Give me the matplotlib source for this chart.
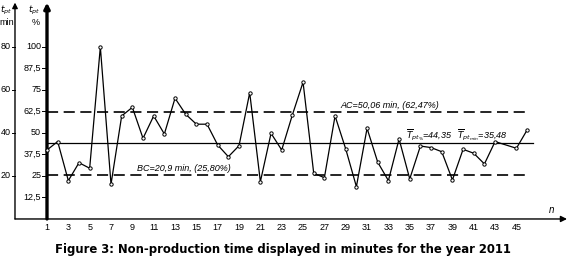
import matplotlib
matplotlib.use('Agg')
import matplotlib.pyplot as plt

# measurement number and non-production time in % (100 % = 80 min)
n_values = [1, 2, 3, 4, 5, 6, 7, 8, 9, 10, 11, 12, 13, 14, 15, 16, 17, 18, 19, 20,
            21, 22, 23, 24, 25, 26, 27, 28, 29, 30, 31, 32, 33, 34, 35, 36, 37, 38,
            39, 40, 41, 42, 43, 45, 46]
t_pct = [40.1, 45.0, 22.3, 32.7, 29.5, 100.0, 20.2, 59.9, 64.9, 46.9, 59.9, 49.4,
         70.2, 60.9, 55.1, 55.1, 43.0, 36.2, 42.6, 73.4, 21.7, 49.8, 40.1, 60.5,
         79.5, 26.6, 24.0, 59.9, 40.7, 18.8, 52.7, 33.0, 22.3, 46.5, 23.3, 42.4,
         41.5, 39.1, 22.7, 40.5, 38.2, 32.0, 45.0, 41.1, 51.7]

ac_pct = 62.47
bc_pct = 25.80
mean_pct = 44.35

pct_ticks = [12.5, 25, 37.5, 50, 62.5, 75, 87.5, 100]
pct_labels = ['12,5', '25', '37,5', '50', '62,5', '75', '87,5', '100']
min_ticks = [25, 50, 75, 100]
min_labels = ['20', '40', '60', '80']
x_ticks = list(range(1, 46, 2))

plt.rcParams['font.family'] = ['Liberation Sans', 'DejaVu Sans']
plt.rcParams['lines.scale_dashes'] = False

fig = plt.figure(figsize=(5.67, 2.68), dpi=100)
ax = fig.add_axes([0, 0, 1, 1])
ax.set_xlim(-3.405, 49.74)
ax.set_ylim(-28.5, 127.3)
ax.axis('off')

fs = 6.5
left_axis_x = -2.0

# reference lines
ax.plot([1, 46.3], [ac_pct, ac_pct], color='black', lw=1.2, dashes=(8, 4))
ax.plot([1, 46.3], [bc_pct, bc_pct], color='black', lw=1.2, dashes=(8, 4))
ax.plot([1, 46.6], [mean_pct, mean_pct], color='black', lw=0.9)

# data series
ax.plot(n_values, t_pct, color='black', lw=0.9, marker='o', markersize=2.4,
        mfc='white', mec='black', mew=0.7, zorder=5)

# x axis with arrow
ax.annotate('', xy=(49.74, 0), xytext=(left_axis_x, 0),
            arrowprops=dict(arrowstyle='-|>', lw=1.0, color='black',
                            mutation_scale=9, shrinkA=0, shrinkB=0),
            annotation_clip=False)
for t in x_ticks:
    ax.text(t, -4.7, str(t), ha='center', va='center', fontsize=fs)
ax.text(48.3, 5.5, 'n', ha='center', va='center', fontsize=fs + 0.5, style='italic')

# percent axis (thick)
ax.annotate('', xy=(1, 125.8), xytext=(1, 0),
            arrowprops=dict(arrowstyle='-|>', lw=2.4, color='black',
                            mutation_scale=8, shrinkA=0, shrinkB=0),
            annotation_clip=False)
for v, lab in zip(pct_ticks, pct_labels):
    ax.plot([0.55, 1], [v, v], color='black', lw=0.7)
    ax.text(0.45, v, lab, ha='right', va='center', fontsize=fs)
ax.text(-0.2, 121.5, r'$t_{pt}$', ha='center', va='center', fontsize=fs)
ax.text(-0.1, 114.5, '%', ha='center', va='center', fontsize=fs)

# minutes axis
ax.annotate('', xy=(left_axis_x, 125.8), xytext=(left_axis_x, 0),
            arrowprops=dict(arrowstyle='-|>', lw=1.0, color='black',
                            mutation_scale=8, shrinkA=0, shrinkB=0),
            annotation_clip=False)
for v, lab in zip(min_ticks, min_labels):
    ax.plot([left_axis_x - 0.3, left_axis_x], [v, v], color='black', lw=0.7)
    ax.text(left_axis_x - 0.4, v, lab, ha='right', va='center', fontsize=fs)
ax.text(-2.8, 121.5, r'$t_{pt}$', ha='center', va='center', fontsize=fs)
ax.text(-2.75, 114.5, 'min', ha='center', va='center', fontsize=fs)

# annotations
ax.text(28.55, 63.6, 'AC=50,06 min, (62,47%)', ha='left', va='bottom',
        fontsize=fs, style='italic')
ax.text(9.43, 27.0, 'BC=20,9 min, (25,80%)', ha='left', va='bottom',
        fontsize=fs, style='italic')
ax.text(34.65, 48.8, r'$\overline{T}_{pt_{\%}}$=44,35', ha='left', va='center',
        fontsize=fs, style='italic')
ax.text(39.4, 48.8, r'$\overline{T}_{pt_{min}}$=35,48', ha='left', va='center',
        fontsize=fs, style='italic')

# caption
ax.text(23.1, -18.0, 'Figure 3: Non-production time displayed in minutes for the year 2011',
        ha='center', va='center', fontsize=8.4, fontweight='bold', family='DejaVu Sans')

fig.savefig('out.png', dpi=100)
